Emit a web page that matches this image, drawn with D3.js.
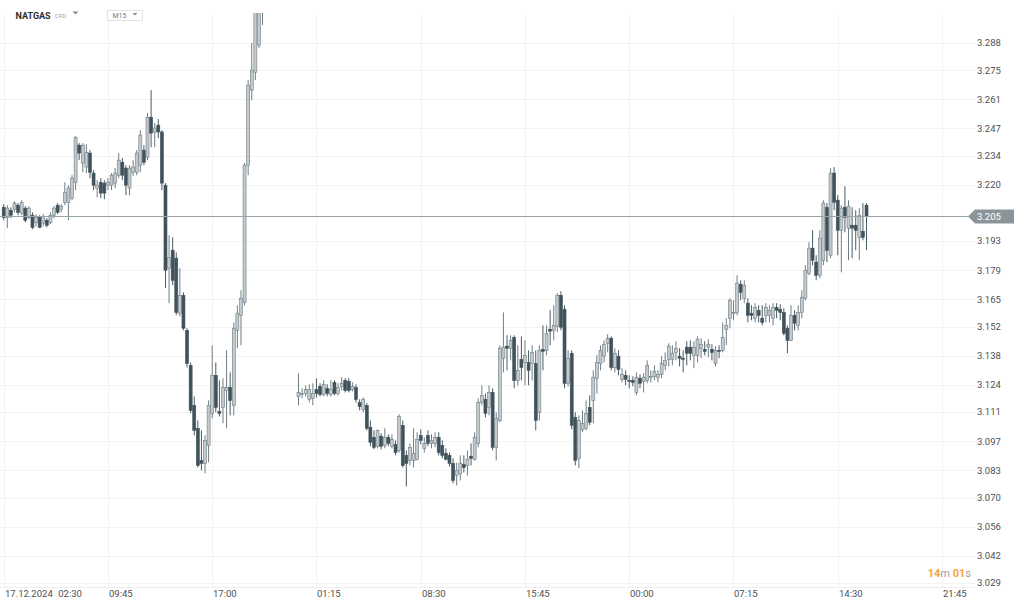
<!DOCTYPE html>
<html><head><meta charset="utf-8">
<script src="https://cdn.jsdelivr.net/npm/d3@7"></script>
<style>html,body{margin:0;padding:0;background:#fff;} svg{display:block;font-family:Roboto,"Noto Sans",sans-serif;}</style>
</head><body><svg id="c" width="1024" height="607"></svg>
<script>
// ---------- data ----------
const symbol = "NATGAS", symbolType = "CFD", timeframe = "M15";
const firstBarTime = "2024-12-17T02:30";
const barMinutes = 15;
const sessionBreakHour = 23;           // no bars between 23:00 and 00:00
const xTickTimes = ["2024-12-17T02:30","2024-12-17T09:45","2024-12-17T17:00","2024-12-18T01:15","2024-12-18T08:30",
                    "2024-12-18T15:45","2024-12-19T00:00","2024-12-19T07:15","2024-12-19T14:30","2024-12-19T21:45"];
const yTickLabels = ["3.288","3.275","3.261","3.247","3.234","3.220","3.193","3.179","3.165","3.152",
                     "3.138","3.124","3.111","3.097","3.083","3.070","3.056","3.042","3.029"];
const timerMinutes = "14", timerSeconds = "01";

const opens = [
3.2092,3.2044,3.2078,3.2083,3.2102,3.2064,3.2088,3.2044,3.2054,3.2020,
3.2044,3.2016,3.2030,3.2020,3.2054,3.2102,3.2083,3.2116,3.2116,3.2136,
3.2212,3.2390,3.2304,3.2285,3.2352,3.2256,3.2184,3.2212,3.2208,3.2198,
3.2198,3.2208,3.2246,3.2308,3.2280,3.2184,3.2260,3.2260,3.2294,3.2366,
3.2332,3.2524,3.2453,3.2486,3.2453,3.2198,3.1800,3.1886,3.1848,3.1584,
3.1670,3.1502,3.1334,3.1142,3.1032,3.0878,3.0864,3.0950,3.1104,3.1286,
3.1113,3.1132,3.1214,3.1228,3.1142,3.1502,3.1574,3.1636,3.2294,3.2654,
3.2740,3.2870,3.3150,null,null,null,null,null,null,null,
null,null,3.1185,3.1194,3.1199,3.1171,3.1176,3.1218,3.1233,3.1194,
3.1224,3.1194,3.1252,3.1199,3.1233,3.1262,3.1257,3.1218,3.1228,3.1156,
3.1123,3.1142,3.1037,3.0989,3.0946,3.0994,3.0950,3.0989,3.0946,3.0955,
3.0926,3.1046,3.0902,3.0878,3.0878,3.0883,3.0998,3.0936,3.0998,3.0960,
3.0960,3.0989,3.0950,3.0912,3.0902,3.0864,3.0806,3.0816,3.0859,3.0854,
3.0898,3.0883,3.0960,3.1156,3.1171,3.1132,3.1204,3.0941,3.1070,3.1368,
3.1426,3.1416,3.1468,3.1262,3.1363,3.1348,3.1348,3.1342,3.1342,3.1109,
3.1411,3.1406,3.1507,3.1502,3.1522,3.1670,3.1603,3.1248,3.1392,3.1084,
3.0888,3.1027,3.1032,3.1132,3.1166,3.1272,3.1342,3.1378,3.1440,3.1464,
3.1324,3.1378,3.1267,3.1286,3.1262,3.1262,3.1204,3.1272,3.1257,3.1262,
3.1277,3.1281,3.1277,3.1291,3.1334,3.1363,3.1363,3.1396,3.1378,3.1368,
3.1421,3.1421,3.1382,3.1382,3.1416,3.1411,3.1421,3.1411,3.1342,3.1406,
3.1406,3.1507,3.1560,3.1584,3.1588,3.1723,3.1656,3.1632,3.1584,3.1560,
3.1598,3.1560,3.1574,3.1574,3.1560,3.1612,3.1603,3.1588,3.1512,3.1454,
3.1574,3.1526,3.1588,3.1656,3.1776,3.1896,3.1829,3.1766,3.1838,3.2092,
3.1862,3.2256,3.2126,3.1982,3.2092,3.1992,3.2006,3.2006,3.1948,3.1977,
3.2102];

const highs = [
3.2107,3.2102,3.2092,3.2121,3.2112,3.2126,3.2097,3.2097,3.2068,3.2059,
3.2054,3.2059,3.2040,3.2068,3.2097,3.2112,3.2107,3.2212,3.2198,3.2246,
3.2433,3.2400,3.2400,3.2395,3.2366,3.2270,3.2222,3.2232,3.2222,3.2232,
3.2256,3.2280,3.2352,3.2328,3.2294,3.2294,3.2318,3.2366,3.2462,3.2390,
3.2544,3.2654,3.2496,3.2515,3.2462,3.2208,3.1958,3.1948,3.1876,3.1800,
3.1684,3.1512,3.1348,3.1185,3.1070,3.1022,3.0998,3.1166,3.1430,3.1348,
3.1262,3.1272,3.1406,3.1300,3.1540,3.1622,3.1694,3.2304,3.2702,3.2880,
3.3150,3.3250,3.3250,null,null,null,null,null,null,null,
null,null,3.1296,3.1224,3.1238,3.1243,3.1248,3.1272,3.1248,3.1262,
3.1243,3.1262,3.1262,3.1248,3.1277,3.1272,3.1272,3.1252,3.1243,3.1171,
3.1180,3.1152,3.1070,3.1022,3.1027,3.1008,3.1032,3.1003,3.1003,3.0974,
3.1099,3.1070,3.0926,3.0960,3.1032,3.1013,3.1027,3.0989,3.1022,3.1003,
3.1013,3.1013,3.0974,3.0936,3.0916,3.0888,3.0868,3.0902,3.0902,3.0926,
3.0960,3.1013,3.1176,3.1238,3.1199,3.1238,3.1224,3.1109,3.1430,3.1588,
3.1478,3.1478,3.1478,3.1430,3.1473,3.1454,3.1406,3.1430,3.1406,3.1430,
3.1526,3.1526,3.1598,3.1622,3.1680,3.1689,3.1622,3.1406,3.1406,3.1109,
3.1094,3.1118,3.1166,3.1190,3.1310,3.1382,3.1430,3.1454,3.1483,3.1473,
3.1416,3.1406,3.1320,3.1310,3.1286,3.1281,3.1300,3.1291,3.1296,3.1358,
3.1310,3.1334,3.1310,3.1378,3.1396,3.1440,3.1430,3.1450,3.1416,3.1406,
3.1450,3.1454,3.1450,3.1473,3.1464,3.1450,3.1459,3.1435,3.1426,3.1430,
3.1540,3.1560,3.1656,3.1646,3.1766,3.1742,3.1742,3.1656,3.1622,3.1632,
3.1622,3.1622,3.1632,3.1622,3.1632,3.1632,3.1627,3.1608,3.1526,3.1622,
3.1598,3.1622,3.1694,3.1814,3.1924,3.1982,3.1862,3.1982,3.2126,3.2112,
3.2280,3.2285,3.2150,3.2102,3.2193,3.2126,3.2092,3.2078,3.2088,3.2112,
3.2112];

const lows = [
3.2030,3.1992,3.2040,3.2068,3.2054,3.2054,3.2020,3.2035,3.1987,3.2001,
3.1992,3.2001,3.1996,3.2011,3.2040,3.2059,3.2068,3.2102,3.2030,3.2126,
3.2174,3.2318,3.2260,3.2256,3.2232,3.2174,3.2140,3.2136,3.2131,3.2174,
3.2174,3.2184,3.2232,3.2222,3.2150,3.2150,3.2241,3.2246,3.2260,3.2294,
3.2318,3.2380,3.2380,3.2424,3.2174,3.1704,3.1632,3.1718,3.1574,3.1569,
3.1502,3.1324,3.1104,3.0998,3.0844,3.0830,3.0816,3.0868,3.1080,3.1109,
3.1089,3.1056,3.1032,3.1094,3.1094,3.1416,3.1430,3.1622,3.2246,3.2606,
3.2702,3.2856,3.2966,null,null,null,null,null,null,null,
null,null,3.1142,3.1176,3.1185,3.1156,3.1142,3.1180,3.1185,3.1185,
3.1185,3.1185,3.1190,3.1190,3.1214,3.1204,3.1204,3.1209,3.1156,3.1118,
3.1109,3.1022,3.0946,3.0931,3.0936,3.0931,3.0936,3.0946,3.0936,3.0902,
3.0916,3.0844,3.0753,3.0854,3.0844,3.0878,3.0955,3.0916,3.0946,3.0936,
3.0941,3.0902,3.0888,3.0878,3.0849,3.0768,3.0758,3.0782,3.0820,3.0806,
3.0854,3.0878,3.0941,3.1142,3.1084,3.1094,3.0926,3.0878,3.1061,3.1300,
3.1310,3.1358,3.1224,3.1238,3.1262,3.1238,3.1238,3.1262,3.1022,3.1070,
3.1310,3.1382,3.1430,3.1454,3.1493,3.1502,3.1224,3.1233,3.1027,3.0854,
3.0840,3.1013,3.1022,3.1046,3.1056,3.1199,3.1310,3.1348,3.1396,3.1310,
3.1300,3.1286,3.1252,3.1238,3.1224,3.1233,3.1190,3.1224,3.1204,3.1248,
3.1252,3.1262,3.1252,3.1272,3.1310,3.1329,3.1334,3.1358,3.1329,3.1300,
3.1334,3.1358,3.1320,3.1348,3.1368,3.1382,3.1373,3.1358,3.1329,3.1368,
3.1396,3.1430,3.1512,3.1550,3.1574,3.1646,3.1632,3.1540,3.1550,3.1540,
3.1540,3.1526,3.1540,3.1540,3.1526,3.1560,3.1550,3.1478,3.1392,3.1450,
3.1502,3.1502,3.1560,3.1646,3.1766,3.1814,3.1742,3.1752,3.1814,3.1829,
3.1848,3.2078,3.1862,3.1780,3.1972,3.1838,3.1848,3.1886,3.1838,3.1934,
3.1886];

const closes = [
3.2044,3.2088,3.2054,3.2112,3.2068,3.2116,3.2030,3.2088,3.1996,3.2044,
3.1996,3.2049,3.2006,3.2054,3.2088,3.2068,3.2097,3.2164,3.2184,3.2232,
3.2428,3.2352,3.2390,3.2356,3.2260,3.2198,3.2198,3.2160,3.2160,3.2212,
3.2246,3.2256,3.2318,3.2246,3.2198,3.2280,3.2285,3.2352,3.2438,3.2308,
3.2524,3.2448,3.2472,3.2453,3.2208,3.1790,3.1852,3.1742,3.1588,3.1670,
3.1512,3.1342,3.1118,3.1022,3.0854,3.0864,3.0974,3.1142,3.1286,3.1132,
3.1104,3.1228,3.1228,3.1166,3.1512,3.1584,3.1656,3.2294,3.2678,3.2750,
3.3100,3.3200,3.3200,null,null,null,null,null,null,null,
null,null,3.1204,3.1199,3.1218,3.1218,3.1199,3.1199,3.1194,3.1243,
3.1199,3.1218,3.1199,3.1228,3.1248,3.1214,3.1214,3.1233,3.1171,3.1137,
3.1171,3.1032,3.0965,3.0941,3.1022,3.0946,3.0989,3.0960,3.0979,3.0916,
3.1089,3.0854,3.0864,3.0941,3.0912,3.0979,3.0974,3.0960,3.0960,3.0974,
3.0989,3.0916,3.0902,3.0883,3.0864,3.0782,3.0830,3.0864,3.0844,3.0883,
3.0888,3.0989,3.1156,3.1190,3.1104,3.1204,3.0941,3.1080,3.1416,3.1421,
3.1416,3.1454,3.1262,3.1310,3.1324,3.1382,3.1310,3.1396,3.1070,3.1406,
3.1401,3.1488,3.1498,3.1526,3.1670,3.1517,3.1248,3.1368,3.1046,3.0878,
3.1070,3.1056,3.1104,3.1061,3.1277,3.1348,3.1406,3.1435,3.1464,3.1324,
3.1392,3.1315,3.1291,3.1267,3.1257,3.1252,3.1277,3.1248,3.1277,3.1334,
3.1281,3.1305,3.1291,3.1342,3.1358,3.1426,3.1392,3.1416,3.1368,3.1363,
3.1392,3.1392,3.1421,3.1459,3.1435,3.1401,3.1435,3.1396,3.1406,3.1401,
3.1468,3.1526,3.1646,3.1588,3.1728,3.1684,3.1718,3.1574,3.1574,3.1612,
3.1574,3.1540,3.1612,3.1598,3.1612,3.1598,3.1588,3.1488,3.1454,3.1574,
3.1536,3.1588,3.1660,3.1790,3.1896,3.1838,3.1766,3.1944,3.2112,3.1886,
3.2256,3.2116,3.1982,3.2088,3.2044,3.2097,3.1992,3.1982,3.2054,3.1948,
3.2050];

// ---------- build ----------
if (!(opens.length === highs.length && highs.length === lows.length && lows.length === closes.length)) {
  throw new Error("length mismatch " + [opens.length, highs.length, lows.length, closes.length]);
}
const parse = d3.timeParse("%Y-%m-%dT%H:%M");
const tickDates = xTickTimes.map(parse);
const lastTick = tickDates[tickDates.length - 1];
const barTimes = [];
let t = parse(firstBarTime);
while (t <= lastTick) {
  barTimes.push(t);
  t = d3.timeMinute.offset(t, barMinutes);
  if (t.getHours() === sessionBreakHour) t = d3.timeMinute.offset(t, 60);
}
const barIndexOf = d => barTimes.findIndex(b => +b === +d);
const tickIdx = tickDates.map(barIndexOf);

const bars = opens.map((o, i) => ({i, o, h: highs[i], l: lows[i], c: closes[i]})).filter(d => d.o != null);

const W = 1024, H = 607;
const plotRight = 975, plotTop = 13, axisY = 587;
const x = d3.scaleLinear().domain([0, tickIdx[tickIdx.length - 1]]).range([3.7, 942]);
const y = d3.scaleLinear().domain([3.029, 3.288]).range([583, 43]);

const svg = d3.select("#c");
svg.append("rect").attr("width", W).attr("height", H).attr("fill", "#fff");

// grid
const grid = svg.append("g");
grid.selectAll("line.h").data(yTickLabels).join("line")
  .attr("x1", 0).attr("x2", plotRight)
  .attr("y1", d => Math.round(y(+d)) + 0.5).attr("y2", d => Math.round(y(+d)) + 0.5)
  .attr("stroke", "#f3f3f3");
grid.selectAll("line.v").data(tickIdx).join("line")
  .attr("x1", d => Math.round(x(d)) + 0.5).attr("x2", d => Math.round(x(d)) + 0.5)
  .attr("y1", 14).attr("y2", axisY)
  .attr("stroke", "#f3f3f3");
svg.append("line").attr("x1", 0).attr("x2", plotRight).attr("y1", axisY + 0.5).attr("y2", axisY + 0.5)
  .attr("stroke", "#ededed");

// y labels
svg.append("g").selectAll("text").data(yTickLabels).join("text")
  .attr("x", 977).attr("y", d => y(+d)).attr("dy", "0.36em")
  .attr("font-size", 9.5).attr("fill", "#4f4f4f").text(d => d);

// x labels
const fDate = d3.timeFormat("%d.%m.%Y"), fTime = d3.timeFormat("%H:%M");
const xl = svg.append("g").selectAll("text").data(tickDates).join("text")
  .attr("x", (d, k) => Math.round(x(tickIdx[k])) + 1).attr("y", 597)
  .attr("font-size", 9.5).attr("fill", "#4f4f4f");
xl.each(function(d, k) {
  const s = d3.select(this);
  if (k === 0) {
    s.append("tspan").text(fDate(d));
    s.append("tspan").attr("dx", 5.5).text(fTime(d));
  } else s.text(fTime(d));
});

// candles
svg.append("clipPath").attr("id", "clip").append("rect")
  .attr("x", 0).attr("y", plotTop).attr("width", plotRight).attr("height", axisY - plotTop);
const cg = svg.append("g").attr("clip-path", "url(#clip)");
const upFill = "#c3c9cc", upLine = "#6f7e85", dnFill = "#40525b", dnLine = "#4a5c64";
const bw = 3;
const cs = cg.selectAll("g").data(bars).join("g");
cs.append("line")
  .attr("x1", d => x(d.i)).attr("x2", d => x(d.i))
  .attr("y1", d => y(d.h)).attr("y2", d => y(d.l))
  .attr("stroke", d => d.c >= d.o ? upLine : dnLine).attr("stroke-width", 1);
cs.append("rect")
  .attr("x", d => x(d.i) - bw / 2).attr("width", bw)
  .attr("y", d => y(Math.max(d.o, d.c)))
  .attr("height", d => Math.max(1, Math.abs(y(d.o) - y(d.c))))
  .attr("fill", d => d.c >= d.o ? upFill : dnFill)
  .attr("stroke", d => d.c >= d.o ? upLine : dnFill).attr("stroke-width", 0.6);

// last price line + label
const last = bars[bars.length - 1].c;
const py = Math.round(y(last)) + 0.5;
svg.append("line").attr("x1", 0).attr("x2", 968).attr("y1", py).attr("y2", py)
  .attr("stroke", "#98a4a8").attr("stroke-width", 1);
svg.append("path")
  .attr("d", `M968,${py} L975,${py - 7} L1014,${py - 7} L1014,${py + 7} L975,${py + 7} Z`)
  .attr("fill", "#8b9599");
svg.append("text").attr("x", 977).attr("y", py).attr("dy", "0.36em")
  .attr("font-size", 9.5).attr("fill", "#fff").text(d3.format(".3f")(last));

// timer
const tm = svg.append("text").attr("x", 971).attr("y", 577).attr("text-anchor", "end").attr("font-size", 11);
tm.append("tspan").attr("fill", "#f5a53a").attr("font-weight", "bold").text(timerMinutes);
tm.append("tspan").attr("fill", "#a0a0a0").text("m ");
tm.append("tspan").attr("fill", "#f5a53a").attr("font-weight", "bold").text(timerSeconds);
tm.append("tspan").attr("fill", "#a0a0a0").text("s");

// header
svg.append("text").attr("x", 15.5).attr("y", 18.5).attr("font-size", 9).attr("font-weight", "bold")
  .attr("fill", "#2e2e2e").text(symbol);
svg.append("text").attr("x", 55).attr("y", 18).attr("font-size", 6).attr("fill", "#9a9a9a").text(symbolType);
svg.append("path").attr("d", "M72.5,11.5 L78.5,11.5 L75.5,14.5 Z").attr("fill", "#8a8a8a");
svg.append("rect").attr("x", 107.5).attr("y", 10.5).attr("width", 35).attr("height", 10)
  .attr("fill", "#fff").attr("stroke", "#e2e2e2");
svg.append("text").attr("x", 112.5).attr("y", 18.2).attr("font-size", 7).attr("fill", "#777").text(timeframe);
svg.append("path").attr("d", "M132.5,13 L137.5,13 L135,15.5 Z").attr("fill", "#8a8a8a");
</script></body></html>
